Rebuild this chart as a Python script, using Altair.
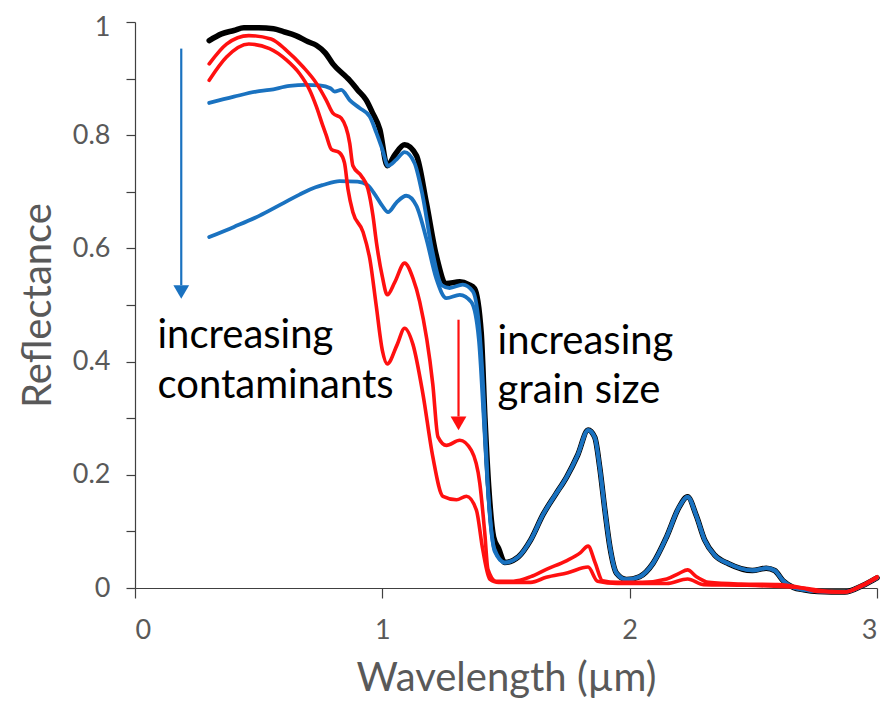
import altair as alt
import pandas as pd

# ---------------- data ----------------
# shared long-wavelength tail of the clean / contaminated snow spectra
tail_w = [1.47, 1.495, 1.55, 1.60, 1.65, 1.70, 1.745, 1.79, 1.832, 1.859, 1.879, 1.90, 1.92,
          1.947, 1.987, 2.04, 2.095, 2.149, 2.20, 2.234, 2.27, 2.303, 2.344, 2.40, 2.496,
          2.552, 2.586, 2.62, 2.662, 2.703, 2.76, 2.87, 2.94, 3.0]
tail_r = [0.07, 0.045, 0.055, 0.085, 0.13, 0.165, 0.196, 0.235, 0.279, 0.266, 0.213, 0.137, 0.073,
          0.026, 0.015, 0.02, 0.044, 0.09, 0.143, 0.161, 0.127, 0.085, 0.058, 0.043, 0.031,
          0.035, 0.031, 0.013, 0.001, -0.003, -0.006, -0.007, 0.004, 0.018]

black_w = [0.30, 0.35, 0.40, 0.44, 0.50, 0.56, 0.60, 0.65, 0.70, 0.733, 0.77, 0.80, 0.854,
           0.868, 0.90, 0.935, 0.96, 0.99, 1.02, 1.05, 1.09, 1.138, 1.178, 1.218, 1.259,
           1.313, 1.35, 1.373, 1.40, 1.415, 1.43, 1.45]
black_r = [0.967, 0.979, 0.985, 0.99, 0.99, 0.988, 0.983, 0.976, 0.965, 0.959, 0.945, 0.926, 0.903,
           0.897, 0.88, 0.862, 0.84, 0.81, 0.746, 0.765, 0.783, 0.764, 0.681, 0.588, 0.538,
           0.541, 0.536, 0.529, 0.45, 0.30, 0.18, 0.09]

blue1_w = [0.30, 0.40, 0.49, 0.544, 0.625, 0.69, 0.746, 0.79, 0.807, 0.834, 0.868, 0.908,
           0.949, 0.976, 1.0, 1.023, 1.057, 1.09, 1.13, 1.163, 1.20, 1.24, 1.272, 1.325,
           1.366, 1.394, 1.414, 1.426, 1.454]
blue1_r = [0.857, 0.868, 0.877, 0.88, 0.887, 0.889, 0.888, 0.883, 0.877, 0.88, 0.862, 0.848,
           0.833, 0.804, 0.775, 0.746, 0.757, 0.77, 0.751, 0.693, 0.60, 0.535, 0.53, 0.536,
           0.524, 0.448, 0.302, 0.185, 0.068]

blue2_w = [0.30, 0.40, 0.50, 0.60, 0.665, 0.73, 0.76, 0.827, 0.90, 0.94, 0.969, 1.0, 1.023,
           1.057, 1.097, 1.138, 1.178, 1.218, 1.259, 1.313, 1.36, 1.39, 1.41, 1.426, 1.454]
blue2_r = [0.62, 0.638, 0.657, 0.68, 0.695, 0.708, 0.712, 0.719, 0.718, 0.712, 0.696, 0.675, 0.664,
           0.681, 0.693, 0.675, 0.617, 0.547, 0.512, 0.518, 0.505, 0.44, 0.30, 0.18, 0.065]

red1_w = [0.30, 0.37, 0.46, 0.55, 0.612, 0.679, 0.733, 0.773, 0.80, 0.834, 0.868, 0.881,
          0.915, 0.942, 0.962, 0.976, 1.0, 1.02, 1.05, 1.09, 1.124, 1.151, 1.204, 1.225,
          1.259, 1.313, 1.36, 1.394, 1.414, 1.427, 1.46, 1.53, 1.60, 1.663, 1.744, 1.80,
          1.832, 1.86, 1.89, 1.95, 2.05, 2.15, 2.20, 2.234, 2.27, 2.32, 2.45, 2.60, 2.70,
          2.76, 2.87, 2.94, 3.0]
red1_r = [0.926, 0.961, 0.976, 0.97, 0.95, 0.921, 0.892, 0.862, 0.839, 0.83, 0.786, 0.746,
          0.728, 0.705, 0.658, 0.611, 0.55, 0.518, 0.54, 0.574, 0.547, 0.506, 0.36, 0.267,
          0.252, 0.261, 0.243, 0.185, 0.098, 0.033, 0.012, 0.012, 0.02, 0.033, 0.048, 0.062,
          0.074, 0.045, 0.013, 0.01, 0.01, 0.016, 0.026, 0.032, 0.02, 0.01, 0.007, 0.006, 0.0,
          -0.006, -0.007, 0.005, 0.02]

red2_w = [0.30, 0.37, 0.46, 0.544, 0.612, 0.665, 0.706, 0.733, 0.76, 0.773, 0.794, 0.827,
          0.847, 0.861, 0.881, 0.922, 0.95, 0.975, 1.0, 1.02, 1.06, 1.09, 1.124, 1.164, 1.204,
          1.245, 1.30, 1.34, 1.38, 1.406, 1.434, 1.47, 1.60, 1.663, 1.75, 1.832, 1.87, 1.95,
          2.15, 2.234, 2.30, 2.45, 2.70, 2.80, 2.87, 2.94, 3.0]
red2_r = [0.897, 0.938, 0.961, 0.953, 0.933, 0.909, 0.88, 0.851, 0.816, 0.80, 0.775, 0.769,
          0.751, 0.705, 0.664, 0.629, 0.58, 0.50, 0.42, 0.396, 0.43, 0.459, 0.43, 0.343, 0.232,
          0.162, 0.156, 0.162, 0.138, 0.068, 0.016, 0.01, 0.01, 0.019, 0.027, 0.037, 0.012, 0.008,
          0.008, 0.016, 0.006, 0.005, 0.0, -0.006, -0.007, 0.004, 0.018]

# annotations (data coordinates)
label_text = ["increasing", "contaminants", "increasing", "grain size"]
label_w = [0.091, 0.091, 1.466, 1.466]
label_r = [0.424, 0.336, 0.414, 0.326]

arrow_name = ["blue", "red"]
arrow_w = [0.187, 1.308]
arrow_top = [0.953, 0.474]
arrow_head = [0.523, 0.291]
arrow_tail_end = [0.535, 0.303]

x_ticks = [0, 1, 2, 3]
y_ticks = [0, 0.1, 0.2, 0.3, 0.4, 0.5, 0.6, 0.7, 0.8, 0.9, 1.0]

BLUE = "#1A72C0"
RED = "#FF1010"

def series(name, ws, rs):
    return pd.DataFrame({"w": ws, "r": rs, "s": name})

black = series("black", black_w + tail_w, black_r + tail_r)
blue1 = series("blue1", blue1_w + tail_w[1:], blue1_r + tail_r[1:])
blue2 = series("blue2", blue2_w + tail_w[1:], blue2_r + tail_r[1:])
red1 = series("red1", red1_w, red1_r)
red2 = series("red2", red2_w, red2_r)

xs = alt.Scale(domain=[0, 3], nice=False)
ys = alt.Scale(domain=[0, 1], nice=False)

xax = alt.Axis(values=x_ticks, format="~g", grid=False, title="Wavelength (µm)",
               tickSize=10, labelPadding=19, titlePadding=15)
yax = alt.Axis(values=y_ticks, format="~g",
               grid=False, title="Reflectance", tickSize=9, labelPadding=16, titlePadding=14,
               labelOffset={"condition": {"test": "datum.value >= 0.99", "value": 5}, "value": 0},
               labelExpr="round(datum.value*10) % 2 == 0 ? datum.label : ''")

X = lambda f: alt.X(f, scale=xs, axis=xax, title="Wavelength (µm)")
Y = lambda f: alt.Y(f, scale=ys, axis=yax, title="Reflectance")

def line(df, color, width):
    return alt.Chart(df).mark_line(color=color, strokeWidth=width, interpolate="monotone",
                                   clip=False, strokeJoin="round", strokeCap="round").encode(
        x=X("w:Q"), y=Y("r:Q"), order=alt.Order("w:Q"),
    )

lines = [
    line(black, "#000000", 5.5),
    line(blue2, BLUE, 3.8),
    line(blue1, BLUE, 3.8),
    line(red2, RED, 3.6),
    line(red1, RED, 3.6),
]

arrows = pd.DataFrame({"name": arrow_name, "w": arrow_w, "top": arrow_top,
                       "head": arrow_head, "end": arrow_tail_end})
arrow_color = alt.Color("name:N", scale=alt.Scale(domain=["blue", "red"], range=[BLUE, RED]),
                        legend=None)
shafts = alt.Chart(arrows).mark_rule(strokeWidth=2.2).encode(
    x=X("w:Q"), y=Y("top:Q"), y2="end:Q", color=arrow_color,
)
heads = alt.Chart(arrows).mark_point(shape="triangle-down", filled=True, opacity=1, size=250).encode(
    x=X("w:Q"), y=Y("head:Q"), color=arrow_color,
)

labels = alt.Chart(pd.DataFrame({"t": label_text, "w": label_w, "r": label_r})).mark_text(
    align="left", baseline="alphabetic", font="Lato", fontSize=40, color="#000000"
).encode(
    x=X("w:Q"), y=Y("r:Q"), text="t:N",
)

chart = alt.layer(*lines, shafts, heads, labels).properties(
    width=742, height=566,
    autosize=alt.AutoSizeParams(type="none"),
    padding={"left": 127, "top": 14, "right": 6, "bottom": 116},
).configure_view(stroke=None).configure_axis(
    labelFont="Lato", titleFont="Lato", labelFontSize=27, titleFontSize=40,
    labelColor="#595959", titleColor="#595959", titleFontWeight="normal",
    domainColor="#404040", tickColor="#404040", domainWidth=1.2, tickWidth=1.2,
)

chart.save("out.html", embed_options={"renderer": "svg", "actions": False})
